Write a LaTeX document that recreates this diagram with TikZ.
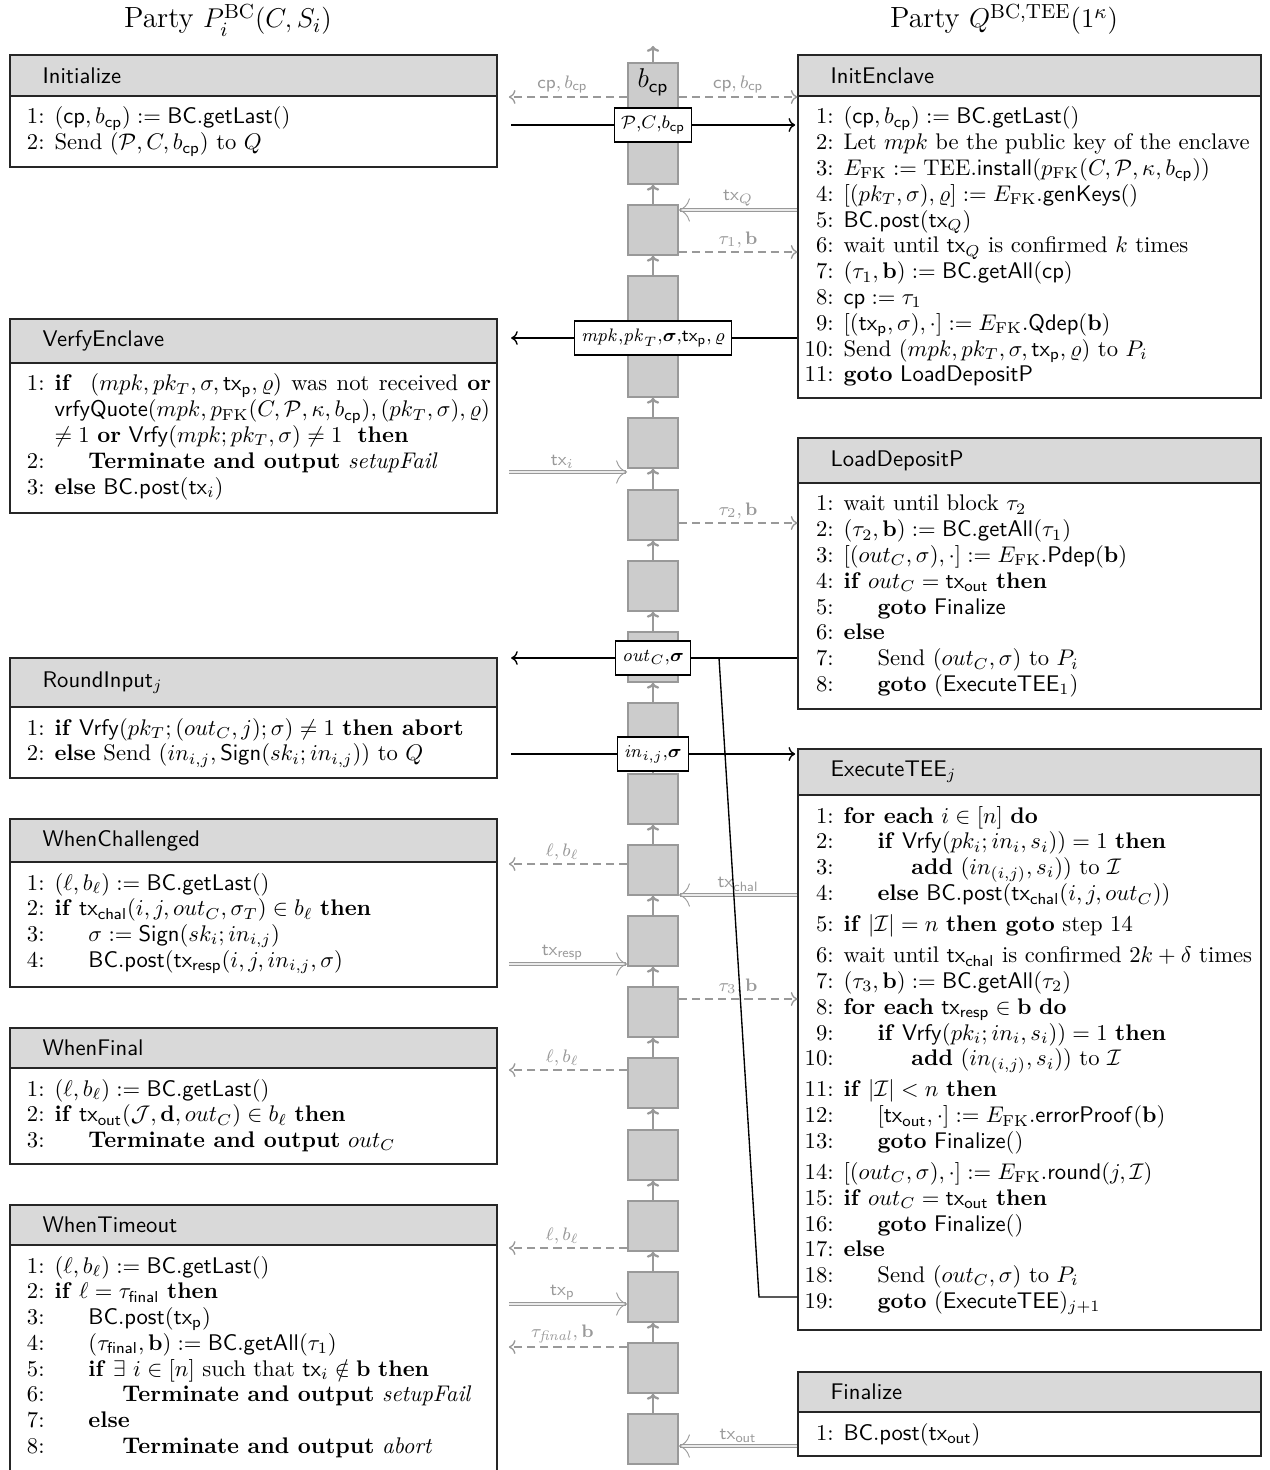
\documentclass[tikz,border=0pt]{standalone}
\usepackage{amsmath,amssymb}
\usetikzlibrary{arrows,arrows.meta,fit}

\newcommand{\CP}{\mathsf{cp}}
\newcommand{\TX}{\mathsf{tx}}
\newcommand{\FK}{\mathrm{FK}}
\newcommand{\algno}[1]{\makebox[12pt][r]{#1:}\hspace{4.4pt}}
\newcommand{\algind}{\hspace*{15pt}}
\renewcommand{\arraystretch}{0.95}

\begin{document}
\begin{tikzpicture}[x=0.442pt,y=-0.442pt,
    prochead/.style={draw=black!85,fill=black!15,inner sep=0pt,line width=0.5pt},
    procbody/.style={draw=black!85,inner sep=0pt,line width=0.5pt},
    hdrtxt/.style={anchor=west,inner sep=0pt,xshift=14.45pt,font=\sffamily},
    algtxt/.style={anchor=base west,inner sep=0pt},
    blk/.style={draw=black!40,fill=black!20,inner sep=0pt,line width=0.7pt},
    blkarrow/.style={-{To[length=2.6pt,width=5.5pt]},draw=black!40,line width=1pt},
    msgbox/.style={draw=black,fill=white,semithick,inner xsep=3pt,inner ysep=0pt,minimum height=15pt,font=\footnotesize},
    msgline/.style={semithick},
    dashmsg/.style={->,draw=black!40,semithick,dash pattern=on 3.6pt off 2.2pt},
    txmsg/.style={->,draw=black!40,double=black!8,double distance=0.7pt,line width=0.4pt},
    glab/.style={above,text=black!40,font=\footnotesize,inner sep=1.5pt},
    ptitle/.style={anchor=base,font=\fontsize{12.9pt}{15pt}\selectfont}]
\useasboundingbox (0,0) rectangle (1270,1470);
\clip (0,0) rectangle (1270,1470);

\node[ptitle] (titleP) at (228,28) {Party $P_i^{\mathrm{BC}}(C,S_i)$};
\node[ptitle] (titleQ) at (1004,28) {Party $Q^{\mathrm{BC,TEE}}(1^\kappa)$};

\foreach \n/\yt/\yb in {1/63/184, 2/205/255, 3/276/397, 4/418/468, 5/490/540, 6/561/611,
    7/632/682, 8/703/753, 9/774/824, 10/845/895, 11/916/966, 12/987/1037, 13/1058/1108,
    14/1130/1180, 15/1201/1251, 16/1272/1322, 17/1343/1393, 18/1414/1464}
  \node[blk,fit={(628,\yt) (678,\yb)}] (b\n) {};
\foreach \m [count=\n from 2] in {1,...,17}
  \draw[blkarrow] (b\n.north) -- (b\m.south);
\coordinate (chaintop) at (653,46);
\draw[blkarrow] (b1.north) -- (chaintop);
\node[font=\large,anchor=base] (bcp) at (653,88) {$b_{\CP}$};

\node[prochead,fit={(10,55) (497,96)}] (initPh) {};
\node[procbody,fit={(10,96) (497,167)}] (initP) {};
\node[hdrtxt] (initPt) at (initPh.west) {Initialize};
\node[algtxt] (initPa) at (17,124) {\begin{tabular}[t]{@{}l@{}}
\algno{1}$(\CP, b_{\CP}) := \mathsf{BC.getLast}()$\\
\algno{2}Send $(\mathcal{P}, C, b_{\CP})$ to $Q$
\end{tabular}};

\node[prochead,fit={(10,319) (497,363)}] (verPh) {};
\node[procbody,fit={(10,363) (497,513)}] (verP) {};
\node[hdrtxt] (verPt) at (verPh.west) {VerfyEnclave};
\node[algtxt] (verPa) at (17,391) {\begin{tabular}[t]{@{}l@{}}
\algno{1}\makebox[193pt][s]{\textbf{if} \ $(mpk, pk_T, \sigma, \TX_{\mathsf{p}}, \varrho)$ was not received \textbf{or}}\\
\hspace*{16.4pt}$\mathsf{vrfyQuote}(mpk, p_{\FK}(C, \mathcal{P}, \kappa, b_{\CP}), (pk_T, \sigma), \varrho)$\\
\hspace*{16.4pt}$\neq 1$ \textbf{or} $\mathsf{Vrfy}(mpk; pk_T, \sigma) \neq 1$ \ \textbf{then}\\
\algno{2}\algind\textbf{Terminate and output} \textit{setupFail}\\
\algno{3}\textbf{else} $\mathsf{BC.post}(\TX_i)$
\end{tabular}};

\node[prochead,fit={(10,658) (497,707)}] (roundPh) {};
\node[procbody,fit={(10,707) (497,778)}] (roundP) {};
\node[hdrtxt] (roundPt) at (roundPh.west) {RoundInput$_j$};
\node[algtxt] (roundPa) at (17,735) {\begin{tabular}[t]{@{}l@{}}
\algno{1}\textbf{if} $\mathsf{Vrfy}(pk_T; (out_C, j); \sigma) \neq 1$ \textbf{then abort}\\
\algno{2}\textbf{else} Send $(in_{i,j}, \mathsf{Sign}(sk_i; in_{i,j}))$ to $Q$
\end{tabular}};

\node[prochead,fit={(10,819) (497,862)}] (chalPh) {};
\node[procbody,fit={(10,862) (497,987)}] (chalP) {};
\node[hdrtxt] (chalPt) at (chalPh.west) {WhenChallenged};
\node[algtxt] (chalPa) at (17,890) {\begin{tabular}[t]{@{}l@{}}
\algno{1}$(\ell, b_\ell) := \mathsf{BC.getLast}()$\\
\algno{2}\textbf{if} $\TX_{\mathsf{chal}}(i, j, out_C, \sigma_T) \in b_\ell$ \textbf{then}\\
\algno{3}\algind$\sigma := \mathsf{Sign}(sk_i; in_{i,j})$\\
\algno{4}\algind$\mathsf{BC.post}(\TX_{\mathsf{resp}}(i, j, in_{i,j}, \sigma)$
\end{tabular}};

\node[prochead,fit={(10,1028) (497,1068)}] (finPh) {};
\node[procbody,fit={(10,1068) (497,1164)}] (finP) {};
\node[hdrtxt] (finPt) at (finPh.west) {WhenFinal};
\node[algtxt] (finPa) at (17,1096) {\begin{tabular}[t]{@{}l@{}}
\algno{1}$(\ell, b_\ell) := \mathsf{BC.getLast}()$\\
\algno{2}\textbf{if} $\TX_{\mathsf{out}}(\mathcal{J}, \mathbf{d}, out_C) \in b_\ell$ \textbf{then}\\
\algno{3}\algind\textbf{Terminate and output} $out_C$
\end{tabular}};

\node[prochead,fit={(10,1205) (497,1245)}] (toPh) {};
\node[procbody,fit={(10,1245) (497,1480)}] (toP) {};
\node[hdrtxt] (toPt) at (toPh.west) {WhenTimeout};
\node[algtxt] (toPa) at (17,1273) {\begin{tabular}[t]{@{}l@{}}
\algno{1}$(\ell, b_\ell) := \mathsf{BC.getLast}()$\\
\algno{2}\textbf{if} $\ell = \tau_{\mathsf{final}}$ \textbf{then}\\
\algno{3}\algind$\mathsf{BC.post}(\TX_{\mathsf{p}})$\\
\algno{4}\algind$(\tau_{\mathsf{final}}, \mathbf{b}) := \mathsf{BC.getAll}(\tau_1)$\\
\algno{5}\algind\textbf{if} $\exists\ i \in [n]$ such that $\TX_i \notin \mathbf{b}$ \textbf{then}\\
\algno{6}\algind\algind\textbf{Terminate and output} \textit{setupFail}\\
\algno{7}\algind\textbf{else}\\
\algno{8}\algind\algind\textbf{Terminate and output} \textit{abort}
\end{tabular}};

\node[prochead,fit={(798,55) (1261,96)}] (initQh) {};
\node[procbody,fit={(798,96) (1261,398)}] (initQ) {};
\node[hdrtxt] (initQt) at (initQh.west) {InitEnclave};
\node[algtxt] (initQa) at (806,124) {\begin{tabular}[t]{@{}l@{}}
\algno{1}$(\CP, b_{\CP}) := \mathsf{BC.getLast}()$\\
\algno{2}Let $mpk$ be the public key of the enclave\\
\algno{3}$E_{\FK} := \mathrm{TEE}.\mathsf{install}(p_{\FK}(C, \mathcal{P}, \kappa, b_{\CP}))$\\
\algno{4}$[(pk_T, \sigma), \varrho] := E_{\FK}.\mathsf{genKeys}()$\\
\algno{5}$\mathsf{BC.post}(\TX_Q)$\\
\algno{6}wait until $\TX_Q$ is confirmed $k$ times\\
\algno{7}$(\tau_1, \mathbf{b}) := \mathsf{BC.getAll}(\CP)$\\
\algno{8}$\CP := \tau_1$\\
\algno{9}$[(\TX_{\mathsf{p}}, \sigma), \cdot] := E_{\FK}.\mathsf{Qdep}(\mathbf{b})$\\
\algno{10}Send $(mpk, pk_T, \sigma, \TX_{\mathsf{p}}, \varrho)$ to $P_i$\\
\algno{11}\textbf{goto} \textsf{LoadDepositP}
\end{tabular}};

\node[prochead,fit={(798,438) (1261,483)}] (loadQh) {};
\node[procbody,fit={(798,483) (1261,709)}] (loadQ) {};
\node[hdrtxt] (loadQt) at (loadQh.west) {LoadDepositP};
\node[algtxt] (loadQa) at (806,511) {\begin{tabular}[t]{@{}l@{}}
\algno{1}wait until block $\tau_2$\\
\algno{2}$(\tau_2, \mathbf{b}) := \mathsf{BC.getAll}(\tau_1)$\\
\algno{3}$[(out_C, \sigma), \cdot] := E_{\FK}.\mathsf{Pdep}(\mathbf{b})$\\
\algno{4}\textbf{if} $out_C = \TX_{\mathsf{out}}$ \textbf{then}\\
\algno{5}\algind\textbf{goto} \textsf{Finalize}\\
\algno{6}\textbf{else}\\
\algno{7}\algind Send $(out_C, \sigma)$ to $P_i$\\
\algno{8}\algind\textbf{goto} $(\mathsf{ExecuteTEE}_1)$
\end{tabular}};

\node[prochead,fit={(798,749) (1261,795)}] (exQh) {};
\node[procbody,fit={(798,795) (1261,1330)}] (exQ) {};
\node[hdrtxt] (exQt) at (exQh.west) {ExecuteTEE$_j$};
\node[algtxt] (exQa) at (806,823) {\begin{tabular}[t]{@{}l@{}}
\algno{1}\textbf{for each} $i \in [n]$ \textbf{do}\\
\algno{2}\algind\textbf{if} $\mathsf{Vrfy}(pk_i; in_i, s_i)) = 1$ \textbf{then}\\
\algno{3}\algind\algind\textbf{add} $(in_{(i,j)}, s_i))$ to $\mathcal{I}$\\
\algno{4}\algind\textbf{else} $\mathsf{BC.post}(\TX_{\mathsf{chal}}(i, j, out_C))$\\[2.3pt]
\algno{5}\textbf{if} $|\mathcal{I}| = n$ \textbf{then goto} step 14\\[2.3pt]
\algno{6}wait until $\TX_{\mathsf{chal}}$ is confirmed $2k+\delta$ times\\
\algno{7}$(\tau_3, \mathbf{b}) := \mathsf{BC.getAll}(\tau_2)$\\
\algno{8}\textbf{for each} $\TX_{\mathsf{resp}} \in \mathbf{b}$ \textbf{do}\\
\algno{9}\algind\textbf{if} $\mathsf{Vrfy}(pk_i; in_i, s_i)) = 1$ \textbf{then}\\
\algno{10}\algind\algind\textbf{add} $(in_{(i,j)}, s_i))$ to $\mathcal{I}$\\[2.3pt]
\algno{11}\textbf{if} $|\mathcal{I}| < n$ \textbf{then}\\
\algno{12}\algind$[\TX_{\mathsf{out}}, \cdot] := E_{\FK}.\mathsf{errorProof}(\mathbf{b})$\\
\algno{13}\algind\textbf{goto} \textsf{Finalize}()\\[2.3pt]
\algno{14}$[(out_C, \sigma), \cdot] := E_{\FK}.\mathsf{round}(j, \mathcal{I})$\\
\algno{15}\textbf{if} $out_C = \TX_{\mathsf{out}}$ \textbf{then}\\
\algno{16}\algind\textbf{goto} \textsf{Finalize}()\\
\algno{17}\textbf{else}\\
\algno{18}\algind Send $(out_C, \sigma)$ to $P_i$\\
\algno{19}\algind\textbf{goto} $(\mathsf{ExecuteTEE})_{j+1}$
\end{tabular}};

\node[prochead,fit={(798,1372) (1261,1412)}] (finQh) {};
\node[procbody,fit={(798,1412) (1261,1456)}] (finQ) {};
\node[hdrtxt] (finQt) at (finQh.west) {Finalize};
\node[algtxt] (finQa) at (806,1440) {\begin{tabular}[t]{@{}l@{}}
\algno{1}$\mathsf{BC.post}(\TX_{\mathsf{out}})$
\end{tabular}};

\draw[dashmsg,shorten >=5pt] (b1.west |- 0,97) -- node[glab] {$\CP, b_{\CP}$} (initP.east |- 0,97);
\draw[dashmsg] (b1.east |- 0,97) -- node[glab] {$\CP, b_{\CP}$} (initQ.west |- 0,97);
\draw[txmsg] (initQ.west |- 0,210) -- node[glab] {$\TX_Q$} (b2.east |- 0,210);
\draw[dashmsg] (b2.east |- 0,252) -- node[glab] {$\tau_1, \mathbf{b}$} (initQ.west |- 0,252);
\draw[txmsg,shorten <=5pt] (verP.east |- 0,472) -- node[glab] {$\TX_i$} (b4.west |- 0,472);
\draw[dashmsg] (b5.east |- 0,523) -- node[glab] {$\tau_2, \mathbf{b}$} (loadQ.west |- 0,523);
\draw[dashmsg,shorten >=5pt] (b10.west |- 0,864) -- node[glab] {$\ell, b_\ell$} (chalP.east |- 0,864);
\draw[txmsg] (exQ.west |- 0,895) -- node[glab] {$\TX_{\mathsf{chal}}$} (b10.east |- 0,895);
\draw[txmsg,shorten <=5pt] (chalP.east |- 0,964) -- node[glab] {$\TX_{\mathsf{resp}}$} (b11.west |- 0,964);
\draw[dashmsg] (b12.east |- 0,999) -- node[glab] {$\tau_3, \mathbf{b}$} (exQ.west |- 0,999);
\draw[dashmsg,shorten >=5pt] (b13.west |- 0,1070) -- node[glab] {$\ell, b_\ell$} (finP.east |- 0,1070);
\draw[dashmsg,shorten >=5pt] (b15.west |- 0,1248) -- node[glab] {$\ell, b_\ell$} (toP.east |- 0,1248);
\draw[txmsg,shorten <=5pt] (toP.east |- 0,1304) -- node[glab] {$\TX_{\mathsf{p}}$} (b16.west |- 0,1304);
\draw[dashmsg,shorten >=5pt] (b17.west |- 0,1347) -- node[glab] {$\tau_{\mathit{final}}, \mathbf{b}$} (toP.east |- 0,1347);
\draw[txmsg] (finQ.west |- 0,1446) -- node[glab] {$\TX_{\mathsf{out}}$} (b18.east |- 0,1446);

\node[msgbox] (m1) at (653,125) {$\mathcal{P}{,}C{,}b_{\CP}$};
\node[msgbox] (m2) at (653,338) {$\mathit{mpk}{,}\mathit{pk}_T{,}\boldsymbol{\sigma}{,}\TX_{\mathsf{p}}{,}\,\varrho$};
\node[msgbox] (m3) at (653,658) {$\mathit{out}_C{,}\boldsymbol{\sigma}$};
\node[msgbox] (m4) at (653,754) {$\mathit{in}_{i,j}{,}\boldsymbol{\sigma}$};

\draw[msgline,shorten <=6pt] (initP.east |- m1) -- (m1.west);
\draw[msgline,->,shorten >=1pt] (m1.east) -- (initQ.west |- m1);
\draw[msgline] (initQ.west |- m2) -- (m2.east);
\draw[msgline,->,shorten >=6pt] (m2.west) -- (verPh.east |- m2);
\draw[msgline] (loadQ.west |- m3) -- (m3.east);
\draw[msgline,->,shorten >=6pt] (m3.west) -- (roundPh.east |- m3);
\draw[msgline,shorten <=6pt] (roundP.east |- m4) -- (m4.west);
\draw[msgline,->,shorten >=1pt] (m4.east) -- (exQh.west |- m4);
\coordinate (jn) at (719,658);
\coordinate (kn) at (759,1297);
\draw[msgline] (exQ.west |- kn) -- (kn) -- (jn);
\end{tikzpicture}
\end{document}
